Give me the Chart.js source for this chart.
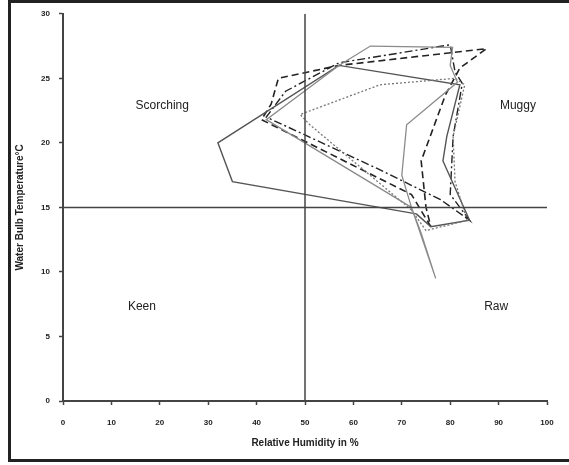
<!DOCTYPE html>
<html>
<head>
<meta charset="utf-8">
<script src="https://cdn.jsdelivr.net/npm/chart.js@4"></script>
<style>
  html, body { margin: 0; padding: 0; background: #fff; }
  #wrap { position: relative; width: 569px; height: 465px; }
</style>
</head>
<body>
<div id="wrap"><canvas id="chart" width="569" height="465"></canvas></div>
<script>
// Climograph: relative humidity (x) vs wet bulb temperature (y), one loop per station
const xTicks = [0, 10, 20, 30, 40, 50, 60, 70, 80, 90, 100];
const yTicks = [0, 5, 10, 15, 20, 25, 30];

const aRH = [73, 35, 32, 57, 82, 79.3, 78.5, 84, 76, 73];
const aWB = [14.5, 17, 20, 26, 24.5, 20.5, 18.6, 14, 13.5, 14.5];

const bRH = [76, 72, 41, 43, 44.5, 57, 87.5, 82, 79, 74, 75, 76];
const bWB = [13.5, 16, 21.8, 23, 25, 26, 27.3, 25.8, 23.7, 18.6, 15, 13.5];

const cRH = [78, 65, 42, 46, 57, 80, 81, 82.5, 80.6, 80, 84, 78];
const cWB = [15.6, 18, 22, 24, 26.2, 27.6, 25.5, 24.6, 20.5, 16, 14, 15.6];

const dRH = [72, 51, 49, 65.5, 81, 83, 80.6, 81, 83.5, 75, 72];
const dWB = [14.8, 21.4, 22.2, 24.5, 25, 24.5, 20.5, 17, 14, 13.2, 14.8];

const eRH = [72, 42, 57, 63.5, 80.5, 80, 81.5, 71, 70, 72, 77, 74, 72];
const eWB = [15, 21.8, 26, 27.5, 27.4, 26, 24.7, 21.4, 17.5, 15, 9.5, 13, 15];

// quadrant dividers
const splitRH = 50;
const splitWB = 15;

const quadrants = [
  { text: "Scorching", x: 20.5, y: 22.9 },
  { text: "Muggy", x: 94, y: 22.9 },
  { text: "Keen", x: 16.3, y: 7.3 },
  { text: "Raw", x: 89.5, y: 7.3 }
];

const pts = (xs, ys) => xs.map((x, i) => ({ x, y: ys[i] }));

function loop(xs, ys, color, width, dash) {
  return {
    data: pts(xs, ys),
    borderColor: color,
    borderWidth: width,
    borderDash: dash,
    showLine: true,
    pointRadius: 0,
    tension: 0,
    fill: false
  };
}

const framePlugin = {
  id: "frame",
  afterDraw(chart) {
    const ctx = chart.ctx;
    ctx.save();
    ctx.fillStyle = "#222";
    ctx.fillRect(8, 0, 561, 3);
    ctx.fillRect(8, 0, 3, 462);
    ctx.fillRect(8, 459, 561, 3);
    ctx.restore();
  }
};

const quadrantPlugin = {
  id: "quadrants",
  afterDatasetsDraw(chart) {
    const { ctx, scales } = chart;
    ctx.save();
    ctx.font = "12px 'Liberation Sans', Arial, sans-serif";
    ctx.fillStyle = "#222";
    ctx.textAlign = "center";
    ctx.textBaseline = "middle";
    quadrants.forEach(q => {
      ctx.fillText(q.text, scales.x.getPixelForValue(q.x), scales.y.getPixelForValue(q.y));
    });
    ctx.restore();
  }
};

const tickFont = { family: "'Liberation Sans', Arial, sans-serif", size: 8, weight: "bold" };
const titleFont = { family: "'Liberation Sans', Arial, sans-serif", size: 10, weight: "bold" };

new Chart(document.getElementById("chart"), {
  type: "scatter",
  data: {
    datasets: [
      loop([splitRH, splitRH], [0, 30], "#444", 1.5, []),
      loop([0, 100], [splitWB, splitWB], "#444", 1.5, []),
      loop(eRH, eWB, "#8a8a8a", 1.3, []),
      loop(dRH, dWB, "#777", 1.3, [2, 2]),
      loop(aRH, aWB, "#555", 1.4, []),
      loop(bRH, bWB, "#222", 1.6, [7, 4]),
      loop(cRH, cWB, "#222", 1.4, [8, 3, 2, 3])
    ]
  },
  options: {
    responsive: false,
    animation: false,
    layout: { padding: { left: 10, top: 8, right: 22, bottom: 10 } },
    plugins: { legend: { display: false }, tooltip: { enabled: false } },
    scales: {
      x: {
        type: "linear",
        min: 0,
        max: 100,
        afterBuildTicks: s => { s.ticks = xTicks.map(v => ({ value: v })); },
        afterFit: s => { s.height = 54; },
        grid: { drawOnChartArea: false, color: "#444", tickLength: 4, tickWidth: 1.5 },
        border: { color: "#444", width: 2 },
        ticks: { font: tickFont, color: "#222", padding: 13, maxRotation: 0 },
        title: { display: true, text: "Relative Humidity in %", font: titleFont, color: "#222", padding: { top: 0, bottom: 6 } }
      },
      y: {
        min: 0,
        max: 30,
        afterBuildTicks: s => { s.ticks = yTicks.map(v => ({ value: v })); },
        afterFit: s => { s.width = 53; },
        grid: { drawOnChartArea: false, color: "#444", tickLength: 4, tickWidth: 1.5 },
        border: { color: "#444", width: 2 },
        ticks: { font: tickFont, color: "#222", padding: 9 },
        title: { display: true, text: "Water Bulb Temperature°C", font: titleFont, color: "#222", padding: { top: 4, bottom: 0 } }
      }
    }
  },
  plugins: [framePlugin, quadrantPlugin]
});
</script>
</body>
</html>
